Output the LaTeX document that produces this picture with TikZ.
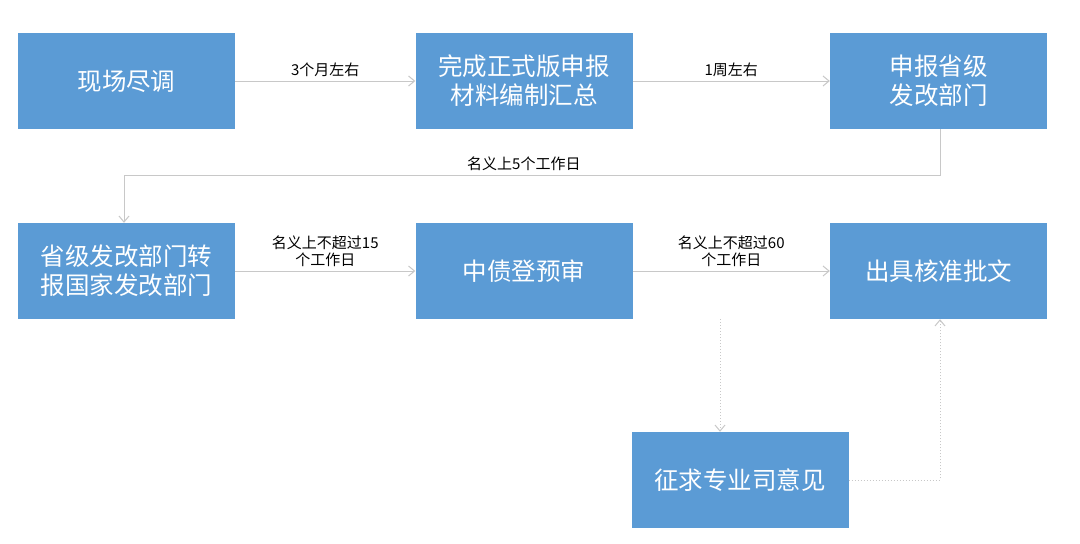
\documentclass[tikz,border=0pt]{standalone}
\usepackage{fontspec}
\setmainfont{Noto Sans CJK SC}
\usetikzlibrary{arrows.meta}
\begin{document}
\begin{tikzpicture}[x=1pt,y=-1pt,
 box/.style={draw=none,fill={rgb,255:red,91;green,155;blue,213},text=white,minimum width=217pt,minimum height=96pt,inner sep=0pt,align=center,font=\fontsize{24.5}{29}\selectfont},
 conn/.style={draw={rgb,255:red,200;green,200;blue,200},line width=1pt,-{Straight Barb[length=6pt,width=10pt]}},
 dconn/.style={conn,dotted},
 lab/.style={font=\fontsize{15}{17}\selectfont,align=center}]
\useasboundingbox (0,0) rectangle (1080,544);
\node[box] (a) at (126.5,81) {现场尽调};
\node[box] (b) at (524,81) {完成正式版申报\\材料编制汇总};
\node[box] (c) at (938.5,81) {申报省级\\发改部门};
\node[box] (d) at (126.5,271) {省级发改部门转\\报国家发改部门};
\node[box] (e) at (524,271) {中债登预审};
\node[box] (f) at (938.5,271) {出具核准批文};
\node[box] (g) at (740,480) {征求专业司意见};
\coordinate (t1) at (940,175);
\coordinate (t2) at (124,175);
\coordinate (u1) at (940,480);
\draw[conn] (a) -- node[lab,above]{3个月左右} (b);
\draw[conn] (b) -- node[lab,above]{1周左右} (c);
\draw[conn] (c.south -| t1) -- (t1) -- node[lab,above,pos=0.51]{名义上5个工作日} (t2) -- (d.north -| t2);
\draw[conn] (d) -- node[lab,above]{名义上不超过15\\个工作日} (e);
\draw[conn] (e) -- node[lab,above]{名义上不超过60\\个工作日} (f);
\draw[dconn] (e.south -| 720,0) -- (g.north -| 720,0);
\draw[dconn] (g.east) -- (u1) -- (f.south -| u1);
\end{tikzpicture}
\end{document}
